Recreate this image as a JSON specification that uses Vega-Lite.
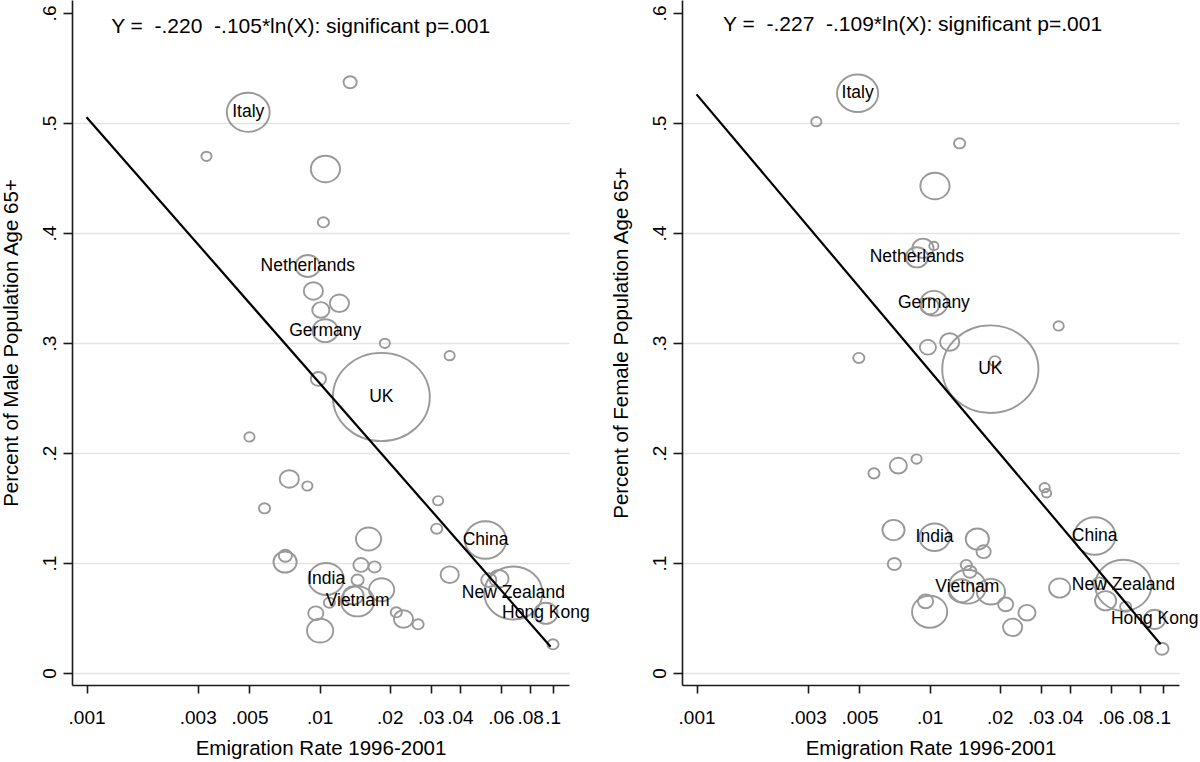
{
  "$schema": "https://vega.github.io/schema/vega-lite/v6.json",
  "padding": {"left": 1, "top": 0, "right": 0, "bottom": 0},
  "background": "white",
  "bounds": "flush",
  "spacing": 113,
  "config": {
    "font": "Liberation Sans",
    "view": {"stroke": null},
    "axis": {
      "domainColor": "#1a1a1a",
      "domainWidth": 1.6,
      "tickColor": "#1a1a1a",
      "tickWidth": 1.6,
      "labelColor": "black",
      "titleColor": "black",
      "labelFont": "Liberation Sans",
      "titleFont": "Liberation Sans",
      "titleFontWeight": "normal",
      "labelFontSize": 19,
      "titleFontSize": 20.5,
      "labelOverlap": false,
      "labelFlush": false
    },
    "axisX": {
      "grid": false,
      "tickSize": 8,
      "labelPadding": 15,
      "titlePadding": 11
    },
    "axisY": {
      "grid": true,
      "gridColor": "#e4e4e4",
      "gridWidth": 1.6,
      "gridOpacity": {"condition": {"test": "datum.value > 0.55", "value": 0}, "value": 1},
      "tickSize": 9,
      "labelAngle": -90,
      "labelAlign": "center",
      "labelBaseline": "bottom",
      "labelPadding": 4,
      "titlePadding": 19
    }
  },
  "datasets": {
    "male": [
      {"rate": 0.00494, "share": 0.5097, "pop": 18.4, "label": "Italy"},
      {"rate": 0.01352, "share": 0.537, "pop": 1.74, "label": ""},
      {"rate": 0.00327, "share": 0.4697, "pop": 1.04, "label": ""},
      {"rate": 0.01059, "share": 0.4582, "pop": 8.53, "label": ""},
      {"rate": 0.01038, "share": 0.4097, "pop": 1.25, "label": ""},
      {"rate": 0.00889, "share": 0.370, "pop": 5.86, "label": "Netherlands"},
      {"rate": 0.0094, "share": 0.3473, "pop": 3.69, "label": ""},
      {"rate": 0.01216, "share": 0.3361, "pop": 3.69, "label": ""},
      {"rate": 0.01012, "share": 0.330, "pop": 2.96, "label": ""},
      {"rate": 0.01057, "share": 0.3112, "pop": 6.35, "label": "Germany"},
      {"rate": 0.01905, "share": 0.2997, "pop": 1.04, "label": ""},
      {"rate": 0.03613, "share": 0.2885, "pop": 1.04, "label": ""},
      {"rate": 0.00988, "share": 0.2673, "pop": 2.31, "label": ""},
      {"rate": 0.0184, "share": 0.2509, "pop": 93.9, "label": "UK"},
      {"rate": 0.0050, "share": 0.2146, "pop": 1.04, "label": ""},
      {"rate": 0.00741, "share": 0.1764, "pop": 3.69, "label": ""},
      {"rate": 0.00886, "share": 0.170, "pop": 1.04, "label": ""},
      {"rate": 0.0058, "share": 0.1497, "pop": 1.25, "label": ""},
      {"rate": 0.03224, "share": 0.1566, "pop": 1.04, "label": ""},
      {"rate": 0.0318, "share": 0.1312, "pop": 1.25, "label": ""},
      {"rate": 0.01622, "share": 0.1218, "pop": 6.35, "label": ""},
      {"rate": 0.00711, "share": 0.1009, "pop": 5.38, "label": ""},
      {"rate": 0.00713, "share": 0.1066, "pop": 1.74, "label": ""},
      {"rate": 0.01067, "share": 0.0855, "pop": 12.39, "label": "India"},
      {"rate": 0.01504, "share": 0.0982, "pop": 2.31, "label": ""},
      {"rate": 0.01721, "share": 0.0964, "pop": 1.49, "label": ""},
      {"rate": 0.01455, "share": 0.0845, "pop": 1.49, "label": ""},
      {"rate": 0.01845, "share": 0.0757, "pop": 6.35, "label": ""},
      {"rate": 0.01455, "share": 0.0652, "pop": 11.02, "label": "Vietnam"},
      {"rate": 0.01397, "share": 0.0706, "pop": 4.08, "label": ""},
      {"rate": 0.01101, "share": 0.0639, "pop": 1.25, "label": ""},
      {"rate": 0.00963, "share": 0.0543, "pop": 2.31, "label": ""},
      {"rate": 0.01005, "share": 0.0385, "pop": 6.86, "label": ""},
      {"rate": 0.02133, "share": 0.0552, "pop": 1.25, "label": ""},
      {"rate": 0.0229, "share": 0.0491, "pop": 3.69, "label": ""},
      {"rate": 0.02645, "share": 0.0443, "pop": 1.25, "label": ""},
      {"rate": 0.03616, "share": 0.0894, "pop": 3.31, "label": ""},
      {"rate": 0.0515, "share": 0.1209, "pop": 16.97, "label": "China"},
      {"rate": 0.0532, "share": 0.0845, "pop": 2.31, "label": ""},
      {"rate": 0.0588, "share": 0.0857, "pop": 3.69, "label": ""},
      {"rate": 0.0678, "share": 0.0727, "pop": 33.87, "label": "New Zealand"},
      {"rate": 0.0935, "share": 0.0543, "pop": 5.38, "label": "Hong Kong"},
      {"rate": 0.1003, "share": 0.0261, "pop": 1.25, "label": ""}
    ],
    "female": [
      {"rate": 0.00491, "share": 0.527, "pop": 16.97, "label": "Italy"},
      {"rate": 0.003264, "share": 0.5012, "pop": 1.04, "label": ""},
      {"rate": 0.01345, "share": 0.4815, "pop": 1.25, "label": ""},
      {"rate": 0.01054, "share": 0.4427, "pop": 8.53, "label": ""},
      {"rate": 0.00882, "share": 0.3779, "pop": 4.93, "label": "Netherlands"},
      {"rate": 0.00936, "share": 0.3861, "pop": 4.49, "label": ""},
      {"rate": 0.01043, "share": 0.3882, "pop": 0.85, "label": ""},
      {"rate": 0.01043, "share": 0.3361, "pop": 7.40, "label": "Germany"},
      {"rate": 0.0100, "share": 0.3336, "pop": 3.31, "label": ""},
      {"rate": 0.00983, "share": 0.2961, "pop": 2.62, "label": ""},
      {"rate": 0.01219, "share": 0.3009, "pop": 3.69, "label": ""},
      {"rate": 0.00497, "share": 0.2864, "pop": 1.25, "label": ""},
      {"rate": 0.01822, "share": 0.2762, "pop": 92.5, "label": "UK"},
      {"rate": 0.01907, "share": 0.2834, "pop": 1.25, "label": ""},
      {"rate": 0.03578, "share": 0.3155, "pop": 1.04, "label": ""},
      {"rate": 0.00577, "share": 0.1815, "pop": 1.25, "label": ""},
      {"rate": 0.00734, "share": 0.1885, "pop": 2.96, "label": ""},
      {"rate": 0.00879, "share": 0.1945, "pop": 1.04, "label": ""},
      {"rate": 0.03115, "share": 0.1685, "pop": 1.04, "label": ""},
      {"rate": 0.03177, "share": 0.1634, "pop": 0.85, "label": ""},
      {"rate": 0.0070, "share": 0.130, "pop": 4.93, "label": ""},
      {"rate": 0.0105, "share": 0.1234, "pop": 9.12, "label": "India"},
      {"rate": 0.01602, "share": 0.1218, "pop": 5.38, "label": ""},
      {"rate": 0.01705, "share": 0.1103, "pop": 2.02, "label": ""},
      {"rate": 0.00706, "share": 0.0991, "pop": 1.74, "label": ""},
      {"rate": 0.01437, "share": 0.0982, "pop": 1.25, "label": ""},
      {"rate": 0.01489, "share": 0.0921, "pop": 1.74, "label": ""},
      {"rate": 0.01451, "share": 0.0785, "pop": 13.84, "label": "Vietnam"},
      {"rate": 0.01368, "share": 0.0748, "pop": 6.35, "label": ""},
      {"rate": 0.01833, "share": 0.0739, "pop": 7.95, "label": ""},
      {"rate": 0.0212, "share": 0.0624, "pop": 2.31, "label": ""},
      {"rate": 0.02617, "share": 0.0548, "pop": 2.96, "label": ""},
      {"rate": 0.0227, "share": 0.0415, "pop": 3.69, "label": ""},
      {"rate": 0.0100, "share": 0.0557, "pop": 12.39, "label": ""},
      {"rate": 0.00961, "share": 0.0652, "pop": 2.31, "label": ""},
      {"rate": 0.03614, "share": 0.0773, "pop": 4.49, "label": ""},
      {"rate": 0.0511, "share": 0.1245, "pop": 16.97, "label": "China"},
      {"rate": 0.0678, "share": 0.0797, "pop": 31.58, "label": "New Zealand"},
      {"rate": 0.0533, "share": 0.0815, "pop": 1.74, "label": ""},
      {"rate": 0.0569, "share": 0.0657, "pop": 4.49, "label": ""},
      {"rate": 0.0694, "share": 0.0603, "pop": 1.25, "label": ""},
      {"rate": 0.0924, "share": 0.0488, "pop": 4.49, "label": "Hong Kong"},
      {"rate": 0.0993, "share": 0.0221, "pop": 1.74, "label": ""}
    ],
    "fitMale": [
      {"rate": 0.001, "share": 0.5053},
      {"rate": 0.098, "share": 0.0239}
    ],
    "fitFemale": [
      {"rate": 0.001, "share": 0.5260},
      {"rate": 0.098, "share": 0.0262}
    ],
    "eqMale": [
      {"rate": 0.00829, "share": 0.5873, "text": "Y =\u00a0 -.220\u00a0 -.105*ln(X): significant p=.001"}
    ],
    "eqFemale": [
      {"rate": 0.00845, "share": 0.589, "text": "Y =\u00a0 -.227\u00a0 -.109*ln(X): significant p=.001"}
    ]
  },
  "hconcat": [
    {
      "width": 497,
      "height": 685,
      "layer": [
        {
          "data": {"name": "male"},
          "mark": {"type": "point", "shape": "M-1,0A1,0.91,0,1,1,1,0A1,0.91,0,1,1,-1,0Z", "filled": false, "stroke": "#999999", "strokeWidth": 1.9, "opacity": 1},
          "encoding": {
            "x": {"field": "rate", "type": "quantitative", "title": "Emigration Rate 1996-2001",
                  "scale": {"type": "log", "domain": [0.000866, 0.1175], "nice": false},
                  "axis": {"values": [0.001, 0.003, 0.005, 0.01, 0.02, 0.03, 0.04, 0.06, 0.08, 0.1], "labelExpr": "replace(format(datum.value, '~g'), '0.', '.')"}},
            "y": {"field": "share", "type": "quantitative", "title": "Percent of Male Population Age 65+",
                  "scale": {"domain": [-0.0109, 0.6118], "nice": false, "zero": false},
                  "axis": {"values": [0, 0.1, 0.2, 0.3, 0.4, 0.5, 0.6], "labelExpr": "replace(format(datum.value, '~g'), '0.', '.')"}},
            "size": {"field": "pop", "type": "quantitative", "scale": {"type": "linear", "domain": [0, 100], "range": [0, 10000]}, "legend": null}
          }
        },
        {
          "data": {"name": "male"},
          "transform": [{"filter": "datum.label != ''"}],
          "mark": {"type": "text", "fontSize": 17.5, "color": "black", "align": "center", "baseline": "middle"},
          "encoding": {
            "x": {"field": "rate", "type": "quantitative"},
            "y": {"field": "share", "type": "quantitative"},
            "text": {"field": "label"}
          }
        },
        {
          "data": {"name": "fitMale"},
          "mark": {"type": "line", "color": "black", "strokeWidth": 2.2},
          "encoding": {
            "x": {"field": "rate", "type": "quantitative"},
            "y": {"field": "share", "type": "quantitative"}
          }
        },
        {
          "data": {"name": "eqMale"},
          "mark": {"type": "text", "fontSize": 21, "color": "black", "align": "center", "baseline": "middle"},
          "encoding": {
            "x": {"field": "rate", "type": "quantitative"},
            "y": {"field": "share", "type": "quantitative"},
            "text": {"field": "text"}
          }
        }
      ]
    },
    {
      "width": 497,
      "height": 685,
      "layer": [
        {
          "data": {"name": "female"},
          "mark": {"type": "point", "shape": "M-1,0A1,0.91,0,1,1,1,0A1,0.91,0,1,1,-1,0Z", "filled": false, "stroke": "#999999", "strokeWidth": 1.9, "opacity": 1},
          "encoding": {
            "x": {"field": "rate", "type": "quantitative", "title": "Emigration Rate 1996-2001",
                  "scale": {"type": "log", "domain": [0.000866, 0.1175], "nice": false},
                  "axis": {"values": [0.001, 0.003, 0.005, 0.01, 0.02, 0.03, 0.04, 0.06, 0.08, 0.1], "labelExpr": "replace(format(datum.value, '~g'), '0.', '.')"}},
            "y": {"field": "share", "type": "quantitative", "title": "Percent of Female Population Age 65+",
                  "scale": {"domain": [-0.0109, 0.6118], "nice": false, "zero": false},
                  "axis": {"values": [0, 0.1, 0.2, 0.3, 0.4, 0.5, 0.6], "labelExpr": "replace(format(datum.value, '~g'), '0.', '.')"}},
            "size": {"field": "pop", "type": "quantitative", "scale": {"type": "linear", "domain": [0, 100], "range": [0, 10000]}, "legend": null}
          }
        },
        {
          "data": {"name": "female"},
          "transform": [{"filter": "datum.label != ''"}],
          "mark": {"type": "text", "fontSize": 17.5, "color": "black", "align": "center", "baseline": "middle"},
          "encoding": {
            "x": {"field": "rate", "type": "quantitative"},
            "y": {"field": "share", "type": "quantitative"},
            "text": {"field": "label"}
          }
        },
        {
          "data": {"name": "fitFemale"},
          "mark": {"type": "line", "color": "black", "strokeWidth": 2.2},
          "encoding": {
            "x": {"field": "rate", "type": "quantitative"},
            "y": {"field": "share", "type": "quantitative"}
          }
        },
        {
          "data": {"name": "eqFemale"},
          "mark": {"type": "text", "fontSize": 21, "color": "black", "align": "center", "baseline": "middle"},
          "encoding": {
            "x": {"field": "rate", "type": "quantitative"},
            "y": {"field": "share", "type": "quantitative"},
            "text": {"field": "text"}
          }
        }
      ]
    }
  ]
}
